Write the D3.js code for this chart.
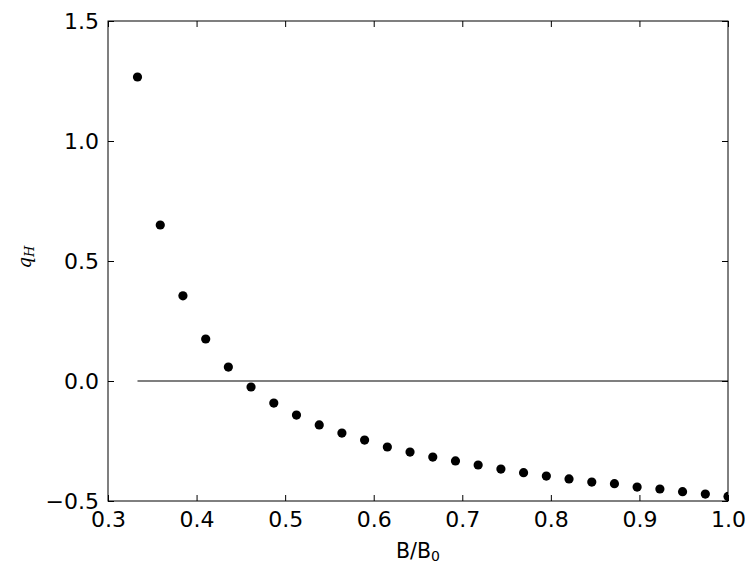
<!DOCTYPE html>
<html>
<head>
<meta charset="utf-8">
<script src="https://cdn.jsdelivr.net/npm/d3@7"></script>
<style>
  html, body { margin: 0; padding: 0; background: #fff; }
  svg { display: block; }
  text { font-family: "DejaVu Sans", sans-serif; fill: #000; }
</style>
</head>
<body>
<script>
// ---- data ----
const bRatio = [0.3333,0.3590,0.3846,0.4103,0.4359,0.4615,0.4872,0.5128,0.5385,0.5641,0.5897,0.6154,0.6410,0.6667,0.6923,0.7179,0.7436,0.7692,0.7949,0.8205,0.8462,0.8718,0.8974,0.9231,0.9487,0.9744,1.0000];
const qH = [1.2667,0.650,0.355,0.175,0.058,-0.025,-0.092,-0.142,-0.183,-0.217,-0.246,-0.275,-0.296,-0.317,-0.333,-0.350,-0.367,-0.382,-0.396,-0.408,-0.421,-0.428,-0.442,-0.450,-0.461,-0.471,-0.481];
const zeroLineX = [0.3333, 1.0];
const zeroLineY = [0, 0];
const xTicks = [0.3,0.4,0.5,0.6,0.7,0.8,0.9,1.0];
const yTicks = [-0.5,0.0,0.5,1.0,1.5];
const xDomain = [0.3, 1.0];
const yDomain = [-0.5, 1.5];

(function () {
// ---- layout ----
const W = 756, H = 573;
const m = {left: 108, top: 21, right: 28, bottom: 72};
const iw = W - m.left - m.right, ih = H - m.top - m.bottom;

const svg = d3.select("body").append("svg").attr("width", W).attr("height", H);
const x = d3.scaleLinear().domain(xDomain).range([0, iw]);
const y = d3.scaleLinear().domain(yDomain).range([ih, 0]);

const g = svg.append("g").attr("transform", `translate(${m.left},${m.top})`);

svg.append("defs").append("clipPath").attr("id","clip")
  .append("rect").attr("width", iw).attr("height", ih);

const fmt = d => (d < 0 ? "\u2212" : "") + d3.format(".1f")(Math.abs(d));
const tl = 6;

// axes (inward ticks, all four sides)
const axB = g.append("g").attr("transform", `translate(0,${ih})`)
  .call(d3.axisBottom(x).tickValues(xTicks).tickSizeInner(-tl).tickSizeOuter(0).tickPadding(10).tickFormat(fmt));
const axT = g.append("g")
  .call(d3.axisTop(x).tickValues(xTicks).tickSizeInner(-tl).tickSizeOuter(0).tickFormat(""));
const axL = g.append("g")
  .call(d3.axisLeft(y).tickValues(yTicks).tickSizeInner(-tl).tickSizeOuter(0).tickPadding(8).tickFormat(fmt));
const axR = g.append("g").attr("transform", `translate(${iw},0)`)
  .call(d3.axisRight(y).tickValues(yTicks).tickSizeInner(-tl).tickSizeOuter(0).tickFormat(""));

[axB, axT, axL, axR].forEach(a => {
  a.select(".domain").remove();
  a.selectAll(".tick line").attr("stroke", "#000").attr("stroke-width", 1);
  a.selectAll(".tick text").style("font-size", "22px").style("font-family", "'DejaVu Sans', sans-serif").attr("fill", "#000");
});
axB.selectAll(".tick text").attr("y", 26).attr("dy", 0);
axL.selectAll(".tick text").attr("x", -9).attr("dy", "0.36em");

// frame
g.append("rect").attr("width", iw).attr("height", ih)
  .attr("fill", "none").attr("stroke", "#000").attr("stroke-width", 1);

const plot = g.append("g").attr("clip-path", "url(#clip)");

// zero line
const zl = zeroLineX.map((v, i) => [v, zeroLineY[i]]);
plot.append("path")
  .attr("d", d3.line().x(d => x(d[0])).y(d => y(d[1]))(zl))
  .attr("fill", "none").attr("stroke", "#000").attr("stroke-width", 1.1);

// points
plot.selectAll("circle.pt").data(bRatio.map((v, i) => [v, qH[i]]))
  .enter().append("circle").attr("class", "pt")
  .attr("cx", d => x(d[0])).attr("cy", d => y(d[1]))
  .attr("r", 4.6).attr("fill", "#000");

// x label
const xl = svg.append("text")
  .attr("x", m.left + iw / 2).attr("y", 558)
  .attr("text-anchor", "middle").style("font-size", "20.5px");
xl.append("tspan").text("B/B");
xl.append("tspan").attr("dy", 3).style("font-size", "14px").text("0");

// y label
const yl = svg.append("text")
  .attr("transform", `translate(31,257) rotate(-90)`)
  .attr("text-anchor", "middle")
  .style("font-family", "'DejaVu Serif', serif").style("font-style", "italic").style("font-size", "18px");
yl.append("tspan").text("q");
yl.append("tspan").attr("dy", 3).style("font-size", "13px").text("H");
})();
</script>
</body>
</html>
